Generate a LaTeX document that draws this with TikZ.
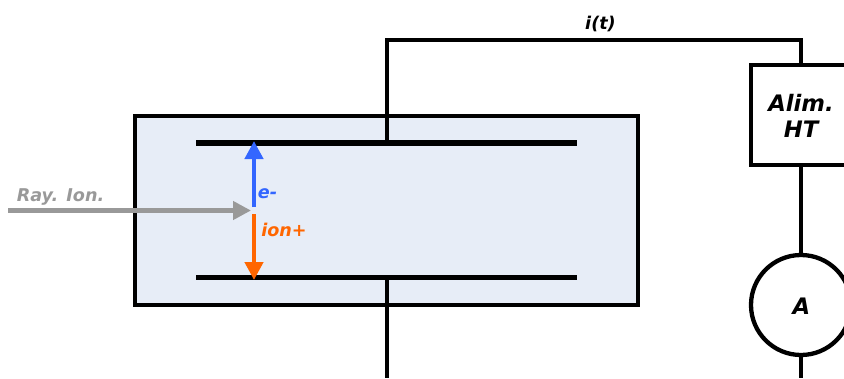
\documentclass[tikz,border=0pt]{standalone}
\usepackage{fontspec}
\setsansfont{DejaVu Sans}
\usepackage{tikz}
\usetikzlibrary{arrows.meta, positioning, shapes.geometric}
\definecolor{chamberfill}{HTML}{E7EDF7}
\definecolor{eblue}{HTML}{3366FF}
\definecolor{ionorange}{HTML}{FF6600}
\definecolor{raygray}{HTML}{999999}
\tikzset{
  wire/.style={line width=4.3pt},
  plate/.style={line width=5.5pt},
  txt/.style={font=\sffamily\bfseries\itshape\fontsize{#1}{#1}\selectfont, inner sep=0pt},
  flow/.style={line width=4.3pt, -{Triangle[length=18pt,width=18pt]}},
}
\begin{document}
\begin{tikzpicture}[x=1pt,y=-1pt]

        \clip (0,0) rectangle (844,378);

        % Chamber
        \node[draw, wire, fill=chamberfill, minimum width=503pt, minimum height=189pt, inner sep=0pt] (chamber) at (386.5,210.5) {};

        % Plates
        \coordinate (topL) at (196,143);
        \coordinate (topR) at (577,143);
        \coordinate (topM) at (387,143);
        \coordinate (botL) at (196,277.5);
        \coordinate (botR) at (577,277.5);
        \coordinate (botM) at (387,277.5);
        \draw[plate] (topL) -- (topR); % Top plate
        \draw[plate] (botL) -- (botR); % Bottom plate

        % Supply and ammeter
        \node[draw, wire, fill=white, minimum width=100pt, minimum height=100pt, inner sep=0pt] (alim) at (801,115) {};
        \node[txt=22.7, align=center] (alimText) at (801,115.5) {Alim.\\[3.5pt]HT};
        \node[draw, wire, fill=white, circle, minimum size=100pt, inner sep=0pt] (ammeter) at (801,305) {};
        \node[txt=22.7] (ammeterText) at (801.5,306) {A};

        % Wires
        \coordinate (wireTL) at (387,40);
        \coordinate (wireTR) at (801,40);
        \coordinate (wireBL) at (387,378);
        \coordinate (wireBR) at (801,378);
        \draw[wire, line join=miter] (topM) -- (wireTL) -- (wireTR) -- (alim.north); % Loop to the supply
        \draw[wire] (alim.south) -- (ammeter.north);
        \draw[wire] (ammeter.south) -- (wireBR);
        \draw[wire] (botM) -- (wireBL);

        % Arrows
        \coordinate (rayStart) at (8,210.5);
        \coordinate (rayEnd) at (251,210.5);
        \coordinate (eStart) at (254,207);
        \coordinate (eEnd) at (254,141);
        \coordinate (ionStart) at (254,214);
        \coordinate (ionEnd) at (254,280);
        \draw[flow, raygray] (rayStart) -- (rayEnd); % Ray
        \draw[flow, eblue] (eStart) -- (eEnd); % e-
        \draw[flow, ionorange] (ionStart) -- (ionEnd); % ion+

        % Labels
        \node[txt=17.6, text=raygray] (rayText) at (60.5,196.5) {Ray. Ion.};
        \node[txt=17.6, text=eblue] (eText) at (267.5,194) {e-};
        \node[txt=17.6, text=ionorange] (ionText) at (284,230) {ion+};
        \node[txt=17.6] (currentText) at (600.5,24) {i(t)};

\end{tikzpicture}
\end{document}
